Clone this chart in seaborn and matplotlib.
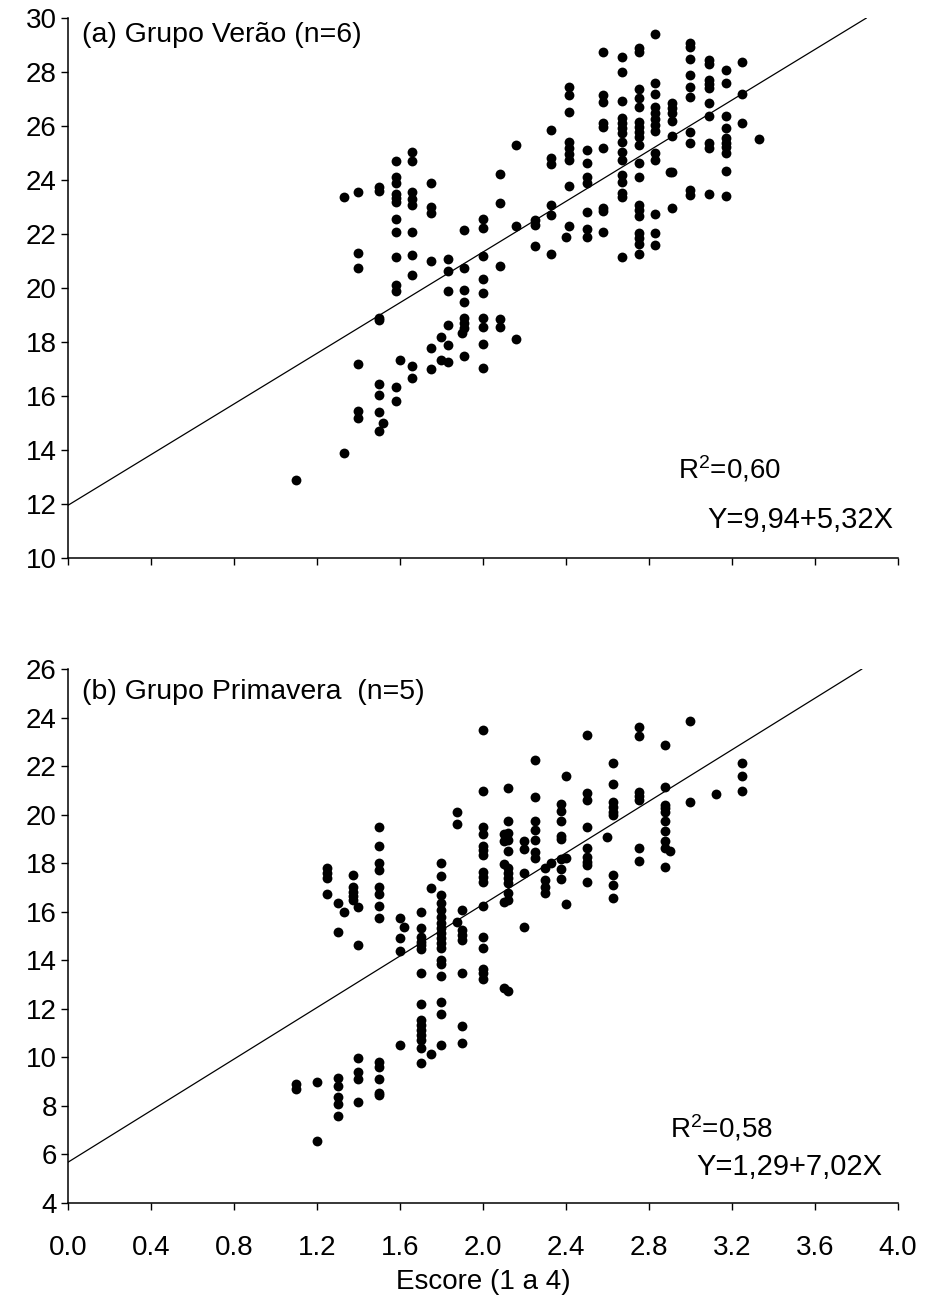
import numpy as np
import pandas as pd
import matplotlib
matplotlib.use("Agg")
import matplotlib.pyplot as plt
import seaborn as sns

# ---------------- data ----------------
verao_scores = [1.10, 1.33, 1.40, 1.50, 1.52, 1.58, 1.60, 1.66, 1.75, 1.80, 1.83,
                1.90, 1.91, 2.00, 2.08, 2.16, 2.25, 2.33, 2.40, 2.415, 2.50,
                2.58, 2.67, 2.75, 2.83, 2.90, 2.91, 3.00, 3.09, 3.17, 3.25, 3.33]
verao_values = [
    [12.9],
    [23.38, 13.88],
    [23.54, 21.31, 20.75, 17.19, 15.46, 15.2],
    [23.75, 23.6, 18.9, 18.8, 16.43, 16.03, 15.42, 14.7],
    [15.0],
    [24.7, 24.1, 23.9, 23.48, 23.32, 23.17, 22.54, 22.06, 21.15, 20.11, 19.9, 16.32, 15.83],
    [17.33],
    [25.03, 24.69, 23.55, 23.3, 23.06, 22.06, 21.22, 20.49, 17.11, 16.66],
    [23.88, 22.99, 22.79, 21.01, 17.77, 17.0],
    [18.17, 17.33],
    [21.06, 20.64, 19.9, 18.63, 17.89, 17.27],
    [18.32],
    [22.15, 20.73, 19.93, 19.49, 18.88, 18.69, 18.51, 17.49],
    [22.54, 22.21, 21.2, 20.32, 19.8, 18.88, 18.57, 17.93, 17.03],
    [24.21, 23.14, 20.8, 18.84, 18.54],
    [25.3, 22.3, 18.1],
    [22.5, 22.33, 21.57],
    [25.85, 24.8, 24.59, 23.07, 22.7, 21.24],
    [21.9],
    [27.43, 27.15, 26.51, 25.39, 25.17, 24.96, 24.74, 23.78, 22.31],
    [25.11, 24.62, 24.12, 23.88, 22.8, 22.17, 21.9],
    [28.75, 27.15, 26.9, 26.12, 25.97, 25.2, 22.97, 22.86, 22.09],
    [28.57, 28.01, 26.93, 26.28, 26.1, 25.91, 25.73, 25.42, 25.05, 24.74, 24.19,
     23.94, 23.5, 23.38, 21.16],
    [28.88, 28.73, 27.36, 27.03, 26.71, 26.16, 25.97, 25.79, 25.6, 25.3, 24.62,
     24.12, 23.07, 22.89, 22.67, 22.03, 21.84, 21.62, 21.27],
    [29.41, 27.58, 27.19, 26.69, 26.47, 26.26, 26.04, 25.83, 25.0, 24.74, 22.74,
     22.03, 21.59],
    [24.28],
    [26.84, 26.66, 26.47, 26.19, 25.63, 24.28, 22.97],
    [29.09, 28.94, 28.48, 27.89, 27.46, 27.09, 25.79, 25.36, 23.63, 23.44],
    [28.44, 28.3, 27.7, 27.56, 27.4, 26.84, 26.35, 25.36, 25.17, 23.47],
    [28.07, 27.58, 26.35, 25.94, 25.54, 25.38, 25.23, 24.99, 24.34, 23.41],
    [28.35, 27.19, 26.1],
    [25.52],
]

prim_scores = [1.10, 1.20, 1.25, 1.30, 1.33, 1.375, 1.40, 1.50, 1.60, 1.62, 1.70,
               1.75, 1.80, 1.875, 1.90, 2.00, 2.10, 2.12, 2.20, 2.25, 2.30, 2.33,
               2.375, 2.40, 2.50, 2.60, 2.625, 2.75, 2.875, 2.90, 3.00, 3.125, 3.25]
prim_values = [
    [8.9, 8.68],
    [8.97, 6.57],
    [17.79, 17.59, 17.38, 16.73],
    [16.38, 15.18, 9.14, 8.82, 8.38, 8.08, 7.58],
    [15.98],
    [17.51, 17.03, 16.83, 16.63, 16.48],
    [16.21, 14.61, 9.99, 9.41, 9.1, 8.17],
    [19.48, 18.72, 18.0, 17.72, 17.03, 16.73, 16.25, 15.73, 9.82, 9.62, 9.1, 8.52, 8.45],
    [15.73, 14.9, 14.4, 10.51],
    [15.36],
    [16.0, 15.32, 14.97, 14.77, 14.63, 14.45, 13.49, 12.2, 11.54, 11.33, 11.13,
     10.92, 10.72, 10.37, 9.76],
    [16.99, 10.15],
    [18.0, 17.47, 16.69, 16.35, 16.07, 15.8, 15.52, 15.32, 15.11, 14.91, 14.7,
     14.49, 14.01, 13.85, 13.35, 12.3, 11.8, 10.5],
    [20.12, 19.61, 15.59],
    [16.07, 15.25, 15.04, 14.84, 13.49, 11.3, 10.6],
    [23.5, 20.99, 19.48, 19.2, 18.71, 18.54, 18.34, 17.65, 17.45, 17.24, 16.24,
     14.97, 14.49, 13.63, 13.46, 13.22],
    [19.2, 18.93, 17.98, 16.4, 12.85],
    [21.11, 19.74, 19.23, 18.96, 18.5, 17.79, 17.59, 17.38, 17.17, 16.76, 16.48, 12.75],
    [18.93, 18.57, 17.59, 15.39],
    [22.25, 20.74, 19.74, 19.37, 18.96, 18.47, 18.2],
    [17.79, 17.31, 17.03, 16.76],
    [18.0],
    [20.43, 20.15, 19.74, 19.12, 18.99, 18.16, 17.75, 17.35],
    [21.59, 18.2, 16.31],
    [23.3, 20.88, 20.6, 19.48, 18.61, 18.27, 18.06, 17.93, 17.24],
    [19.09],
    [22.12, 21.25, 20.54, 20.33, 20.12, 19.99, 17.51, 17.1, 16.58],
    [23.63, 23.24, 20.95, 20.77, 20.6, 18.61, 18.1],
    [22.87, 21.13, 20.4, 20.26, 20.12, 19.74, 19.34, 18.92, 18.64, 17.86],
    [18.52],
    [23.86, 20.5],
    [20.86],
    [22.12, 21.61, 20.99],
]

# fitted lines as drawn (intercept, slope)
verao_line = (11.95, 4.69)
prim_line = (5.68, 5.31)

x_ticks = [0.0, 0.4, 0.8, 1.2, 1.6, 2.0, 2.4, 2.8, 3.2, 3.6, 4.0]
verao_yticks = list(range(10, 31, 2))
prim_yticks = list(range(4, 27, 2))

titles = ["(a) Grupo Verão (n=6)", "(b) Grupo Primavera  (n=5)"]
r2_texts = [r"R$^\mathregular{2}$=0,60", r"R$^\mathregular{2}$=0,58"]
eq_texts = ["Y=9,94+5,32X", "Y=1,29+7,02X"]
x_label = "Escore (1 a 4)"

FS = 20


def to_frame(scores, values):
    rows = [(s, v) for s, vs in zip(scores, values) for v in vs]
    return pd.DataFrame(rows, columns=["escore", "valor"])


sns.set_theme(style="ticks")
plt.rcParams["font.family"] = ["Liberation Sans", "DejaVu Sans"]
plt.rcParams["mathtext.fontset"] = "custom"
plt.rcParams["mathtext.rm"] = "Liberation Sans"
plt.rcParams["mathtext.it"] = "Liberation Sans"
plt.rcParams["mathtext.bf"] = "Liberation Sans"
plt.rcParams["text.color"] = "black"
plt.rcParams["axes.labelcolor"] = "black"

fig = plt.figure(figsize=(9.26, 13.0), dpi=100)
fig.patch.set_facecolor("white")
ax1 = fig.add_axes([0.0734, 0.5708, 0.8963, 0.4154])
ax2 = fig.add_axes([0.0734, 0.0746, 0.8963, 0.4108])

panels = [
    (ax1, to_frame(verao_scores, verao_values), verao_line, (10, 30), verao_yticks,
     (2.94, 13.3), (3.08, 11.41), 0.9685),
    (ax2, to_frame(prim_scores, prim_values), prim_line, (4, 26), prim_yticks,
     (2.90, 7.1), (3.03, 5.48), 0.957),
]

for i, (ax, df, (a, b), ylim, yticks, r2pos, eqpos, ty) in enumerate(panels):
    ax.set_facecolor("white")
    x_end = (ylim[1] - a) / b
    xs = np.array([0.0, x_end])
    ax.plot(xs, a + b * xs, color="black", lw=0.9, zorder=2)
    sns.scatterplot(data=df, x="escore", y="valor", ax=ax, color="black",
                    s=50, linewidth=0, zorder=3, legend=False)
    ax.set_xlim(0, 4)
    ax.set_ylim(*ylim)
    ax.set_xticks(x_ticks)
    ax.set_yticks(yticks)
    ax.set_yticklabels([str(t) for t in yticks], fontsize=FS)
    for side in ["top", "right"]:
        ax.spines[side].set_visible(False)
    for side in ["left", "bottom"]:
        ax.spines[side].set_color("black")
        ax.spines[side].set_linewidth(1.1)
    ax.tick_params(axis="both", direction="out", length=5, width=1.0,
                   colors="black", labelsize=FS, pad=3)
    ax.set_ylabel("")
    ax.text(0.0175, ty, titles[i], transform=ax.transAxes, fontsize=FS + 0.5,
            va="center", ha="left", color="black")
    ax.text(r2pos[0], r2pos[1], r2_texts[i], fontsize=FS, va="center",
            ha="left", color="black")
    ax.text(eqpos[0], eqpos[1], eq_texts[i], fontsize=FS + 1, va="center",
            ha="left", color="black")

ax1.set_xticklabels([])
ax1.set_xlabel("")
ax2.set_xticklabels([f"{t:.1f}" for t in x_ticks], fontsize=FS)
ax2.tick_params(axis="x", pad=18)
ax2.set_xlabel(x_label, fontsize=FS, labelpad=6, color="black")

fig.savefig("out.png", dpi=100, facecolor="white")
